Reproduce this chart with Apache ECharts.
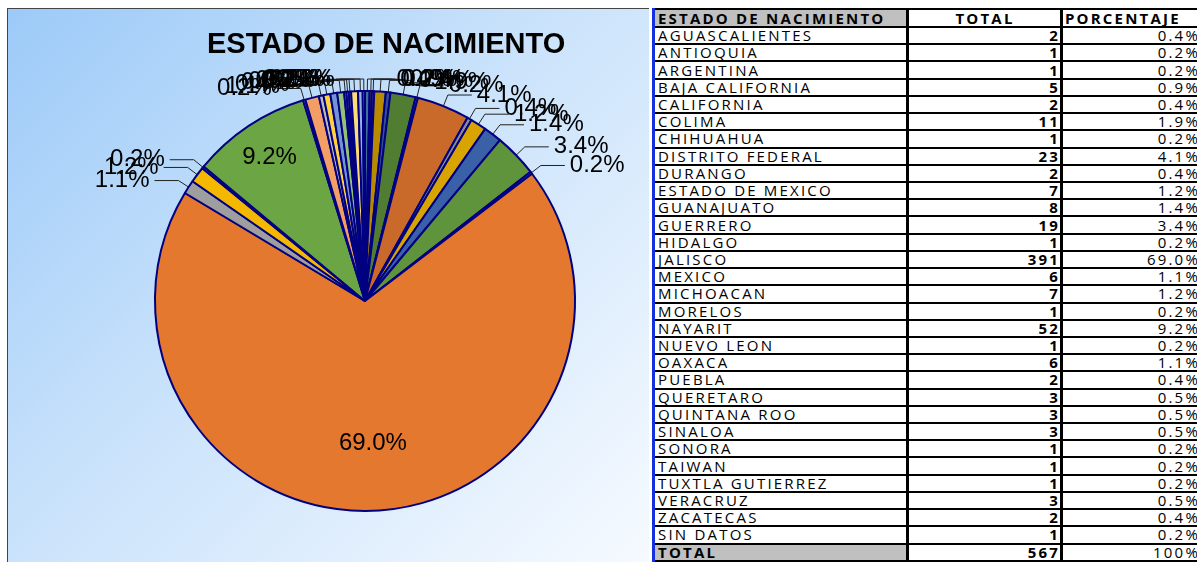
<!DOCTYPE html>
<html>
<head>
<meta charset="utf-8">
<script src="https://cdn.jsdelivr.net/npm/echarts@6/dist/echarts.min.js"></script>
<style>
  html, body {
    margin: 0;
    padding: 0;
    width: 1197px;
    height: 562px;
    overflow: hidden;
    background: #fff;
  }
  .panel {
    position: absolute;
    left: 7px;
    top: 8px;
    width: 641px;
    height: 554px;
    border-left: 1px solid #444;
    border-top: 1px solid #444;
    background: linear-gradient(135deg, #9ccaf8 0%, #c9e2fb 45%, #f6faff 100%);
  }
  #chart {
    position: absolute;
    left: 0;
    top: 0;
    width: 650px;
    height: 562px;
  }
  .tabla {
    position: absolute;
    left: 652px;
    top: 8px;
    width: 560px;
    border-collapse: collapse;
    table-layout: fixed;
    font-family: "Open Sans", "DejaVu Sans", sans-serif;
    font-size: 15px;
    letter-spacing: 2.2px;
    color: #000;
  }
  .tabla tr { height: 17.23px; }
  .tabla tr.cab { height: 18px; }
  .tabla td, .tabla th {
    line-height: 13px;
    padding: 0 2px 0 3px;
    border-top: 2px solid #000;
    border-bottom: 2px solid #000;
    border-left: 3px solid #000;
    border-right: 3px solid #000;
    white-space: nowrap;
    overflow: hidden;
  }
  .tabla td:first-child, .tabla th:first-child {
    border-left: 3px solid #1530e0;
    text-align: left;
  }
  .tabla th { font-weight: 700; text-align: center; }
  .tabla .gris { background: #c0c0c0; }
  .tabla .num { text-align: right; font-weight: 700; padding-right: 0; }
  .tabla .pct { text-align: right; padding-right: 12px; }
  .tabla th.pcab { text-align: left; padding-left: 2px; }
  .tabla .total td { font-weight: 700; }
</style>
</head>
<body>
<div class="panel"></div>
<div id="chart"></div>
<table class="tabla" id="tabla"></table>

<script>
// estados (orden de la tabla)
const estados = [
  'AGUASCALIENTES', 'ANTIOQUIA', 'ARGENTINA', 'BAJA CALIFORNIA', 'CALIFORNIA',
  'COLIMA', 'CHIHUAHUA', 'DISTRITO FEDERAL', 'DURANGO', 'ESTADO DE MEXICO',
  'GUANAJUATO', 'GUERRERO', 'HIDALGO', 'JALISCO', 'MEXICO',
  'MICHOACAN', 'MORELOS', 'NAYARIT', 'NUEVO LEON', 'OAXACA',
  'PUEBLA', 'QUERETARO', 'QUINTANA ROO', 'SINALOA', 'SONORA',
  'TAIWAN', 'TUXTLA GUTIERREZ', 'VERACRUZ', 'ZACATECAS', 'SIN DATOS'
]

// totales por estado
const totales = [
  2, 1, 1, 5, 2,
  11, 1, 23, 2, 7,
  8, 19, 1, 391, 6,
  7, 1, 52, 1, 6,
  2, 3, 3, 3, 1,
  1, 1, 3, 2, 1
]

// encabezados de la tabla
const encabezados = ['ESTADO DE NACIMIENTO', 'TOTAL', 'PORCENTAJE']
const titulo = 'ESTADO DE NACIMIENTO'

const sumaTotal = totales.reduce((a, b) => a + b, 0)
const porcentaje = v => (v / sumaTotal * 100).toFixed(1) + '%'

// paleta tipo Excel: 6 acentos, cada vuelta cambia el tono (oscuro -> claro)
const acentos = ['#5B9BD5', '#ED7D31', '#A5A5A5', '#FFC000', '#4472C4', '#70AD47']
const tonos = [-0.28, -0.15, -0.04, 0.25, 0.45]

const ajustarTono = (hex, t) => {
  const c = [1, 3, 5].map(i => parseInt(hex.slice(i, i + 2), 16))
  const r = c.map(v => t < 0 ? v * (1 + t) : v + (255 - v) * t)
  return 'rgb(' + r.map(v => Math.round(v)).join(',') + ')'
}
const colores = estados.map((_, i) => ajustarTono(acentos[i % 6], tonos[Math.floor(i / 6)]))

// tabla de la derecha
const tabla = document.getElementById('tabla')
let html = '<colgroup><col style="width:254px"><col style="width:154px"><col style="width:152px"></colgroup>'
html += '<tr class="cab"><th class="gris">' + encabezados[0] + '</th><th>' + encabezados[1] + '</th><th class="pcab">' + encabezados[2] + '</th></tr>'
estados.forEach((e, i) => {
  html += '<tr><td>' + e + '</td><td class="num">' + totales[i] + '</td><td class="pct">' + porcentaje(totales[i]) + '</td></tr>'
})
html += '<tr class="total"><td class="gris">TOTAL</td><td class="num">' + sumaTotal + '</td><td class="pct" style="font-weight:400">100%</td></tr>'
tabla.innerHTML = html

// grafica de pastel
const centro = [365, 301]
const radio = 210
const esGrande = v => v / sumaTotal > 0.05

const chart = echarts.init(document.getElementById('chart'))

chart.setOption({
  backgroundColor: 'transparent',
  title: {
    text: titulo,
    left: 202,
    top: 25,
    textStyle: {
      fontFamily: 'Liberation Sans',
      fontSize: 29,
      fontWeight: 'bold',
      color: '#000'
    }
  },
  series: [
    {
      type: 'pie',
      center: centro,
      radius: radio,
      startAngle: 90,
      clockwise: true,
      minShowLabelAngle: 0,
      avoidLabelOverlap: false,
      animation: false,
      itemStyle: {
        borderColor: '#000080',
        borderWidth: 2
      },
      label: {
        show: true,
        fontFamily: 'Liberation Sans',
        fontSize: 24,
        color: '#000',
        overflow: 'none',
        formatter: p => porcentaje(p.value)
      },
      labelLine: {
        show: true,
        length: 12,
        length2: 24,
        lineStyle: { color: '#222', width: 1 }
      },
      // etiquetas internas mas hacia el borde, como en Excel
      labelLayout: p => {
        if (!esGrande(totales[p.dataIndex])) return {}
        const r = p.labelRect
        const dx = r.x + r.width / 2 - centro[0]
        const dy = r.y + r.height / 2 - centro[1]
        const d = Math.sqrt(dx * dx + dy * dy) || 1
        const f = (totales[p.dataIndex] / sumaTotal > 0.5 ? 0.68 : 0.82) * radio / d
        return {
          x: centro[0] + dx * f,
          y: centro[1] + dy * f,
          align: 'center',
          verticalAlign: 'middle'
        }
      },
      data: estados.map((e, i) => ({
        name: e,
        value: totales[i],
        itemStyle: { color: colores[i] },
        // las rebanadas grandes llevan la etiqueta dentro
        label: esGrande(totales[i]) ? { position: 'inside' } : undefined,
        labelLine: esGrande(totales[i]) ? { show: false } : undefined
      }))
    }
  ]
})
</script>
</body>
</html>
